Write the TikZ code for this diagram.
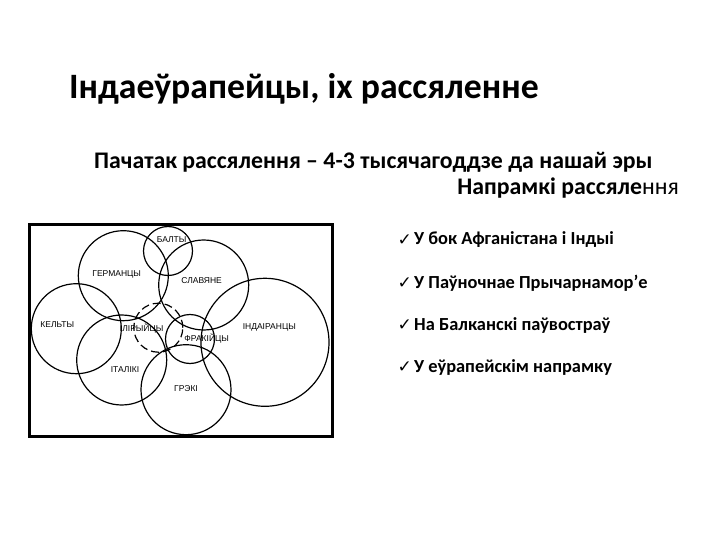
\documentclass[tikz,border=0pt]{standalone}
\usepackage{fontspec}
\setmainfont{Carlito}
\newfontfamily\mapfont{Liberation Sans}
\newfontfamily\symfont{DejaVu Sans}
\usetikzlibrary{calc}
\usetikzlibrary{shapes}
\newcommand{\region}[5]{\node[shape=circle,draw,line width=1.2pt,fill=none,inner sep=0pt,minimum size=#4pt,#5] (#1) at ( #2 , #3 ) {};}
\newcommand{\lablmap}[4]{\node[draw=none,fill=none,inner sep=0pt,font=\mapfont\fontsize{8.5}{9}\selectfont] (#1) at ( #2 , #3 ) {#4};}
\newcommand{\lablitem}[3]{\node[anchor=west,inner sep=0pt,font=\bfseries\fontsize{18.4}{20}\selectfont] (#1) at ( 414 , #2 ) {#3};
  \node[anchor=east,inner sep=0pt,font=\symfont\fontsize{17}{18}\selectfont] (#1c) at ( 412 , #2 ) {✓};}

\begin{document}
\begin{tikzpicture}[x=1pt,y=-1pt]
        \useasboundingbox (0,0) rectangle (720,540);
        % heading
        \node[anchor=west,inner sep=0pt,font=\bfseries\fontsize{35.7}{38}\selectfont] (title) at ( 69 , 89 ) {Індаеўрапейцы, іх рассяленне};
        \node[anchor=west,inner sep=0pt,font=\bfseries\fontsize{23.8}{26}\selectfont] (start) at ( 94 , 162 ) {Пачатак рассялення – 4-3 тысячагоддзе да нашай эры};
        \node[anchor=east,inner sep=0pt,font=\bfseries\fontsize{23.8}{26}\selectfont] (dirs) at ( 679 , 188 ) {Напрамкі рассяле\textmd{ння}};
        % frame
        \node[draw,line width=3pt,inner sep=0pt,minimum width=303pt,minimum height=212pt] (frame) at ( 181 , 330.5 ) {};
        % circles
        \region{balty}{168}{251}{49}{}
        \region{german}{123.3}{275.7}{90}{}
        \region{slav}{203.7}{285}{90}{}
        \region{kelt}{76.3}{328.7}{90}{}
        \region{ital}{121.7}{360}{90}{}
        \region{ilir}{158.3}{327.7}{49}{dash pattern=on 8pt off 4pt}
        \region{frak}{190}{339}{49}{}
        \region{grek}{186}{389.7}{90}{}
        \region{indo}{265}{342.3}{128}{}
        % names
        \lablmap{lbalty}{171.7}{240}{БАЛТЫ}
        \lablmap{lgerman}{116.7}{274.3}{ГЕРМАНЦЫ}
        \lablmap{lslav}{201.7}{281}{СЛАВЯНЕ}
        \lablmap{lkelt}{57.3}{324.3}{КЕЛЬТЫ}
        \lablmap{lilir}{141.7}{329}{ІЛІРЫЙЦЫ}
        \lablmap{lfrak}{206.7}{339}{ФРАКІЙЦЫ}
        \lablmap{lindo}{269.3}{327}{ІНДАІРАНЦЫ}
        \lablmap{lital}{125}{370}{ІТАЛІКІ}
        \lablmap{lgrek}{186}{388.7}{ГРЭКІ}
        % directions
        \lablitem{afg}{240}{У бок Афганістана і Індыі}
        \lablitem{black}{283.5}{У Паўночнае Прычарнамор’е}
        \lablitem{balk}{325}{На Балканскі паўвостраў}
        \lablitem{eur}{367}{У еўрапейскім напрамку}
    \end{tikzpicture}
\end{document}
